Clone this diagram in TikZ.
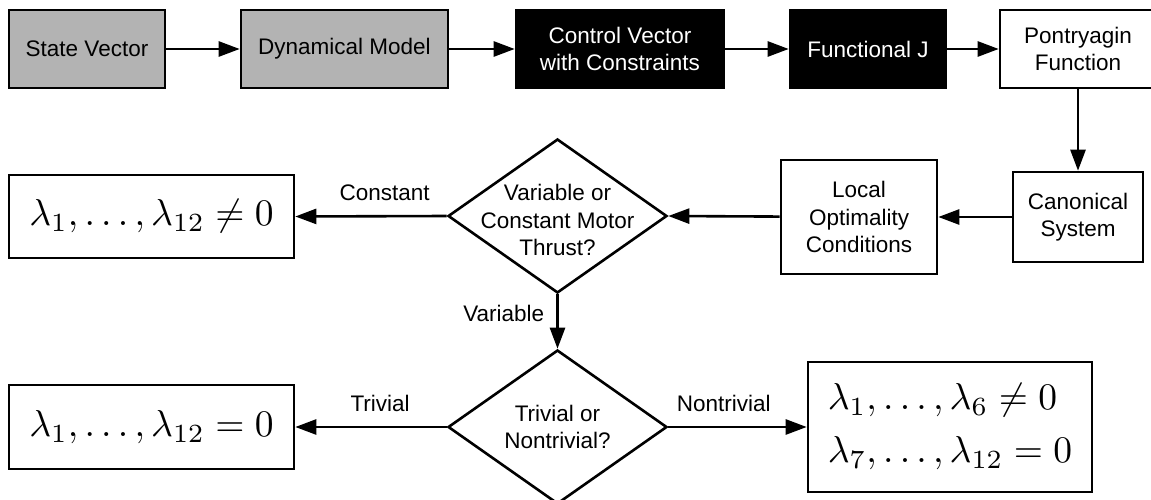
\documentclass[tikz,border=0pt]{standalone}
\usepackage{graphicx}
\usepackage{fontspec}
\setmainfont{Liberation Sans}
\usetikzlibrary{arrows.meta,shapes.geometric}
\definecolor{boxgray}{RGB}{179,179,179}
% large formula: normal-size math scaled up
\newcommand{\bigformula}[1]{\scalebox{3.75}{\fontsize{10}{12}\selectfont#1}}

\begin{document}
\begin{tikzpicture}[x=1pt,y=-1pt,
  lw/.style={line width=2.6pt},
  txt/.style={font=\fontsize{22.5}{27.5}\selectfont},
  stage/.style={lw,draw=black,inner sep=0pt,align=center,txt},
  greybox/.style={stage,fill=boxgray,text=black},
  darkbox/.style={stage,fill=black,text=white},
  whitebox/.style={stage,fill=white,text=black},
  mathbox/.style={lw,draw=black,fill=white,inner sep=0pt},
  decision/.style={diamond,lw,draw=black,fill=white,inner sep=0pt,
    minimum width=219pt,minimum height=154pt},
  dtext/.style={txt,align=center,inner sep=0pt},
  flow/.style={lw,-{Triangle[length=21pt,width=15pt]}},
  lbl/.style={txt,inner sep=0pt}]

\useasboundingbox (0,0) rectangle (1151,500);
\fill[white] (0,0) rectangle (1151,500);

% top row
\node[greybox,minimum width=156pt,minimum height=78pt] (sv) at (87,49) {State Vector};
\node[greybox,minimum width=207pt,minimum height=78pt] (dm) at (344.5,49) {Dynamical Model};
\node[darkbox,minimum width=208pt,minimum height=78pt] (cv) at (620,49) {Control Vector\\with Constraints};
\node[darkbox,minimum width=156pt,minimum height=78pt] (fj) at (868,49) {Functional J};
\node[whitebox,minimum width=156pt,minimum height=78pt] (pf) at (1078,49) {Pontryagin\\Function};

% middle row
\node[whitebox,minimum width=130pt,minimum height=90pt] (can) at (1078,217) {Canonical\\System};
\node[whitebox,minimum width=156pt,minimum height=114pt] (loc) at (859,217) {Local\\Optimality\\Conditions};
\node[decision] (d1) at (557.5,216) {};
\node[dtext] (d1t) at (557.5,220) {Variable or\\Constant Motor\\Thrust?};
\node[mathbox,minimum width=285pt,minimum height=83pt] (cst) at (151.5,216.5)
  {\bigformula{$\lambda_1,\ldots,\lambda_{12}\neq 0$}};

% bottom row
\node[decision] (d2) at (557.5,427) {};
\node[dtext] (d2t) at (557.5,427) {Trivial or\\Nontrivial?};
\node[mathbox,minimum width=285pt,minimum height=84pt] (triv) at (151.5,427)
  {\bigformula{$\lambda_1,\ldots,\lambda_{12}=0$}};
\node[mathbox,minimum width=284pt,minimum height=130pt] (ntr) at (950,427)
  {\bigformula{\begin{tabular}{@{}l@{}}$\lambda_1,\ldots,\lambda_6\neq 0$\\[2.1pt]$\lambda_7,\ldots,\lambda_{12}=0$\end{tabular}}};

% connectors
\draw[flow] (sv) -- (dm);
\draw[flow] (dm) -- (cv);
\draw[flow] (cv) -- (fj);
\draw[flow] (fj) -- (pf);
\draw[flow] (can.north |- pf.south) -- (can.north);
\draw[flow] (can) -- (loc);
\draw[flow] (loc) -- (d1.east);
\draw[flow] (d1.west) -- node[lbl,pos=0.41,above=14pt] {Constant} (cst.east);
\draw[flow] (d1.south) -- node[lbl,pos=0.35,left=12pt] {Variable} (d2.north);
\draw[flow] (d2.west) -- node[lbl,pos=0.44,above=14pt] {Trivial} (triv.east);
\draw[flow] (d2.east) -- node[lbl,pos=0.40,above=14pt] {Nontrivial} (ntr.west);
\end{tikzpicture}
\end{document}
